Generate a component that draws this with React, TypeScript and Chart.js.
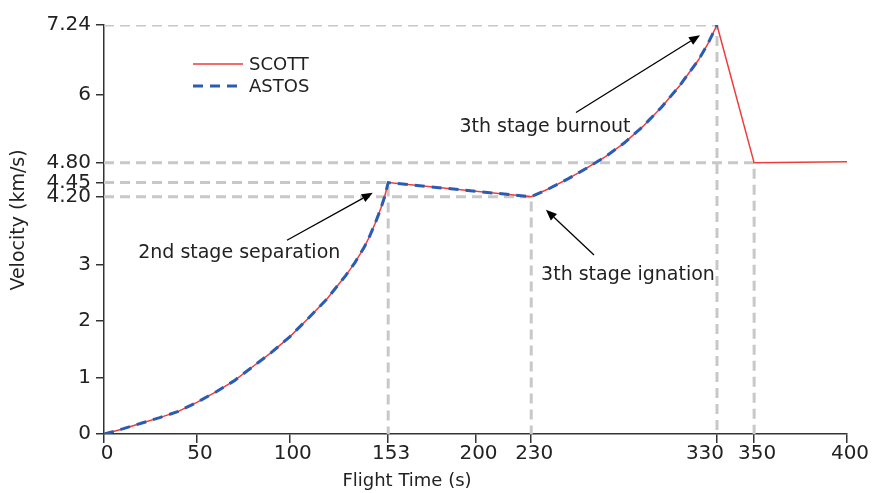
import React, { useEffect, useRef } from 'react';
import { Chart, registerables } from 'chart.js';

Chart.register(...registerables);

// ---- data ----
const scottTime = [0, 10, 20, 30, 40, 50, 60, 70, 80, 90, 100, 110, 120, 130, 135, 140, 143, 146, 149, 151, 153, 230, 240, 250, 260, 270, 280, 290, 300, 310, 320, 325, 330, 350, 400];
const scottVelocity = [0, 0.09, 0.19, 0.29, 0.4, 0.56, 0.74, 0.94, 1.19, 1.44, 1.72, 2.05, 2.39, 2.8, 3.03, 3.3, 3.5, 3.73, 3.99, 4.19, 4.45, 4.2, 4.35, 4.52, 4.71, 4.91, 5.15, 5.44, 5.78, 6.17, 6.62, 6.9, 7.24, 4.8, 4.82];
const astosTime = [0, 10, 20, 30, 40, 50, 60, 70, 80, 90, 100, 110, 120, 130, 135, 140, 143, 146, 149, 151, 153, 230, 240, 250, 260, 270, 280, 290, 300, 310, 320, 325, 330];
const astosVelocity = [0, 0.09, 0.19, 0.29, 0.4, 0.56, 0.74, 0.94, 1.19, 1.44, 1.72, 2.05, 2.39, 2.8, 3.03, 3.3, 3.5, 3.73, 3.99, 4.19, 4.45, 4.2, 4.35, 4.52, 4.71, 4.91, 5.15, 5.44, 5.78, 6.17, 6.62, 6.9, 7.24];

const xTickValues = [0, 50, 100, 153, 200, 230, 330, 350, 400];
const xTickLabels = ['0', '50', '100', '153', '200', '230', '330', '350', '400'];
const yTickValues = [0, 1, 2, 3, 4.2, 4.45, 4.8, 6, 7.24];
const yTickLabels = ['0', '1', '2', '3', '4.20', '4.45', '4.80', '6', '7.24'];

const eventTimes = [153, 230, 330, 350];
const eventVelocities = [4.45, 4.2, 7.24, 4.8];

const annotationLabels = ['2nd stage separation', '3th stage ignation', '3th stage burnout'];
const annotationTextTime = [72.8, 282.1, 237.4];
const annotationTextVelocity = [3.2, 2.81, 5.43];
const annotationTailTime = [98.5, 263.8, 254.1];
const annotationTailVelocity = [3.43, 3.17, 5.69];
const annotationHeadTime = [144.7, 237.9, 320.9];
const annotationHeadVelocity = [4.27, 3.97, 7.06];

const seriesNames = ['SCOTT', 'ASTOS'];

const FONT = "'DejaVu Sans', sans-serif";
const RED = '#ef3b3b';
const BLUE = '#2b5cb2';
const GREY = '#c8c8c8';
const AXIS = '#333333';

const annotationPlugin = {
  id: 'annots',
  afterDatasetsDraw(chart: any) {
    const { ctx, scales } = chart;
    const xs = scales.x;
    const ys = scales.y;
    ctx.save();
    for (let i = 0; i < annotationLabels.length; i++) {
      const tx = xs.getPixelForValue(annotationTailTime[i]);
      const ty = ys.getPixelForValue(annotationTailVelocity[i]);
      const hx = xs.getPixelForValue(annotationHeadTime[i]);
      const hy = ys.getPixelForValue(annotationHeadVelocity[i]);
      const ang = Math.atan2(hy - ty, hx - tx);
      const headLen = 11;
      const headW = 4.5;
      const bx = hx - headLen * Math.cos(ang);
      const by = hy - headLen * Math.sin(ang);
      ctx.strokeStyle = '#000';
      ctx.lineWidth = 1.3;
      ctx.beginPath();
      ctx.moveTo(tx, ty);
      ctx.lineTo(bx, by);
      ctx.stroke();
      ctx.fillStyle = '#000';
      ctx.beginPath();
      ctx.moveTo(hx, hy);
      ctx.lineTo(bx + headW * Math.sin(ang), by - headW * Math.cos(ang));
      ctx.lineTo(bx - headW * Math.sin(ang), by + headW * Math.cos(ang));
      ctx.closePath();
      ctx.fill();

      ctx.font = `19px ${FONT}`;
      ctx.fillStyle = '#222';
      ctx.textAlign = 'center';
      ctx.textBaseline = 'middle';
      ctx.fillText(
        annotationLabels[i],
        xs.getPixelForValue(annotationTextTime[i]),
        ys.getPixelForValue(annotationTextVelocity[i])
      );
    }
    ctx.restore();
  },
  afterDraw(chart: any) {
    const { ctx, chartArea, scales } = chart;
    ctx.save();
    // x tick labels (330 nudged left, as in the source figure)
    ctx.font = `20px ${FONT}`;
    ctx.fillStyle = '#222';
    ctx.textAlign = 'center';
    ctx.textBaseline = 'middle';
    for (let i = 0; i < xTickValues.length; i++) {
      const nudge = xTickLabels[i] === '330' ? -12 : 3;
      ctx.fillText(xTickLabels[i], scales.x.getPixelForValue(xTickValues[i]) + nudge, chartArea.bottom + 20);
    }
    // legend
    const lx = chartArea.left + 89;
    const ly = chartArea.top + 39;
    const colors = [RED, BLUE];
    const widths = [1.5, 3];
    const dashes = [[], [10, 7]];
    for (let i = 0; i < seriesNames.length; i++) {
      const y = ly + i * 22;
      ctx.strokeStyle = colors[i];
      ctx.lineWidth = widths[i];
      ctx.setLineDash(dashes[i]);
      ctx.beginPath();
      ctx.moveTo(lx, y);
      ctx.lineTo(lx + 50, y);
      ctx.stroke();
      ctx.setLineDash([]);
      ctx.font = `18px ${FONT}`;
      ctx.fillStyle = '#222';
      ctx.textAlign = 'left';
      ctx.textBaseline = 'middle';
      ctx.fillText(seriesNames[i], lx + 56, y + 1);
    }
    // axis titles
    ctx.font = `18px ${FONT}`;
    ctx.fillStyle = '#222';
    ctx.textAlign = 'center';
    ctx.textBaseline = 'middle';
    ctx.fillText('Flight Time (s)', 407, chartArea.bottom + 47);
    ctx.font = `19px ${FONT}`;
    ctx.translate(19, 220);
    ctx.rotate(-Math.PI / 2);
    ctx.fillText('Velocity (km/s)', 0, 0);
    ctx.restore();
  },
};

export default function App() {
  const ref = useRef<HTMLCanvasElement>(null);
  useEffect(() => {
    if (!ref.current) return;
    const refDatasets = eventTimes.map((t, i) => ({
      label: 'ref' + i,
      data: [
        { x: 0, y: eventVelocities[i] },
        { x: t, y: eventVelocities[i] },
        { x: t, y: 0 },
      ],
      borderColor: GREY,
      borderWidth: 3,
      borderDash: [10, 6],
      pointRadius: 0,
      fill: false,
      tension: 0,
    }));
    const chart = new Chart(ref.current, {
      type: 'line',
      data: {
        datasets: [
          {
            label: seriesNames[1],
            data: astosTime.map((t, i) => ({ x: t, y: astosVelocity[i] })),
            borderColor: BLUE,
            borderWidth: 3,
            borderDash: [10, 7],
            pointRadius: 0,
            fill: false,
            tension: 0,
          },
          {
            label: seriesNames[0],
            data: scottTime.map((t, i) => ({ x: t, y: scottVelocity[i] })),
            borderColor: RED,
            borderWidth: 1.5,
            pointRadius: 0,
            fill: false,
            tension: 0,
          },
          ...refDatasets,
        ] as any,
      },
      options: {
        animation: false,
        responsive: false,
        maintainAspectRatio: false,
        layout: { padding: { top: 25, right: 26, left: 0, bottom: 0 } },
        plugins: { legend: { display: false }, tooltip: { enabled: false } },
        scales: {
          x: {
            type: 'linear',
            min: 0,
            max: 400,
            afterBuildTicks: (s: any) => {
              s.ticks = xTickValues.map((v) => ({ value: v }));
            },
            afterFit: (s: any) => {
              s.height = 59;
            },
            ticks: {
              display: false,
              autoSkip: false,
              maxRotation: 0,
            },
            grid: { drawOnChartArea: false, drawTicks: true, tickLength: 9, color: AXIS, lineWidth: 1.5 },
            border: { display: true, color: AXIS, width: 1.5 },
          },
          y: {
            type: 'linear',
            min: 0,
            max: 7.24,
            afterBuildTicks: (s: any) => {
              s.ticks = yTickValues.map((v) => ({ value: v }));
            },
            afterFit: (s: any) => {
              s.width = 104;
            },
            ticks: {
              autoSkip: false,
              padding: 5,
              color: '#222',
              font: { family: FONT, size: 20 },
              callback: (v: any) => {
                const idx = yTickValues.indexOf(Number(v));
                return idx >= 0 ? yTickLabels[idx] : '';
              },
            },
            grid: { drawOnChartArea: false, drawTicks: true, tickLength: 8, color: AXIS, lineWidth: 1.5 },
            border: { display: true, color: AXIS, width: 1.5 },
          },
        },
      } as any,
      plugins: [annotationPlugin],
    });
    return () => chart.destroy();
  }, []);
  return (
    <div style={{ position: 'fixed', left: 0, top: 0, width: 873, height: 493, background: '#fff' }}>
      <canvas ref={ref} width={873} height={493} style={{ width: 873, height: 493 }} />
    </div>
  );
}
